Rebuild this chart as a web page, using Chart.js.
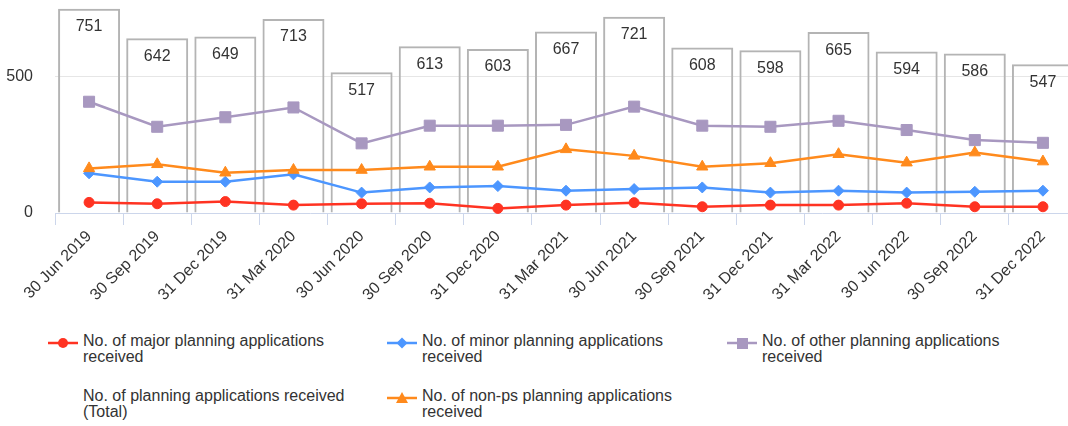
<!DOCTYPE html>
<html>
<head>
<meta charset="utf-8">
<script src="https://cdn.jsdelivr.net/npm/chart.js@4.4.1/dist/chart.umd.min.js"></script>
<style>
  html, body { margin: 0; padding: 0; width: 1068px; height: 426px; overflow: hidden; background: #fff; font-family: "Liberation Sans", Arial, sans-serif; }
  #wrap { position: absolute; left: 0; top: 0; width: 1077px; height: 320px; }
  .lg-sym { position: absolute; width: 30px; height: 14px; }
  .lg-txt { position: absolute; font-size: 16px; line-height: 16px; color: #333; white-space: nowrap; }
</style>
</head>
<body>
<div id="wrap"><canvas id="c" width="1077" height="320"></canvas></div>
<div id="legend"></div>
<script>
const categories = ["30 Jun 2019","30 Sep 2019","31 Dec 2019","31 Mar 2020","30 Jun 2020","30 Sep 2020","31 Dec 2020","31 Mar 2021","30 Jun 2021","30 Sep 2021","31 Dec 2021","31 Mar 2022","30 Jun 2022","30 Sep 2022","31 Dec 2022"];
const totalValues = [751,642,649,713,517,613,603,667,721,608,598,665,594,586,547];
const majorValues = [39,34,42,29,34,36,17,29,38,23,29,29,36,23,23];
const minorValues = [146,115,115,142,75,94,99,82,88,94,75,82,75,78,82];
const otherValues = [409,317,352,388,256,321,321,324,391,321,317,339,305,268,258];
const nonpsValues = [164,179,148,158,158,170,170,234,210,170,183,216,185,222,189];
const yTickValues = [0, 500];
const seriesNames = {
  major: ["No. of major planning applications", "received"],
  minor: ["No. of minor planning applications", "received"],
  other: ["No. of other planning applications", "received"],
  total: ["No. of planning applications received", "(Total)"],
  nonps: ["No. of non-ps planning applications", "received"]
};
const colors = { major: "#ff3322", minor: "#4c96ff", other: "#a898c0", nonps: "#ff8a1c", total: "#b4b4b4" };

const FONT = "'Liberation Sans', Arial, sans-serif";
Chart.defaults.font.family = FONT;
Chart.defaults.font.size = 16;
Chart.defaults.color = "#333";

function lineDs(key, data, style, radius, order) {
  return {
    type: "line", label: seriesNames[key].join(" "), data: data,
    borderColor: colors[key], backgroundColor: colors[key],
    pointBackgroundColor: colors[key], pointBorderColor: colors[key], pointBorderWidth: 1,
    borderWidth: 2.5, pointStyle: style, pointRadius: radius, pointHoverRadius: radius,
    tension: 0, order: order, clip: false
  };
}

const barLabels = {
  id: "barLabels",
  afterDatasetsDraw(chart) {
    const ctx = chart.ctx;
    const meta = chart.getDatasetMeta(0);
    ctx.save();
    ctx.font = "16px " + FONT;
    ctx.fillStyle = "#333";
    ctx.textAlign = "center";
    ctx.textBaseline = "middle";
    meta.data.forEach((bar, i) => {
      ctx.fillText(String(totalValues[i]), bar.x, bar.y + 18);
    });
    ctx.restore();
  }
};

const chart = new Chart(document.getElementById("c"), {
  type: "bar",
  data: {
    labels: categories,
    datasets: [
      { type: "bar", label: seriesNames.total.join(" "), data: totalValues,
        backgroundColor: "rgba(0,0,0,0)", borderColor: colors.total, borderWidth: 2,
        barPercentage: 0.91, categoryPercentage: 1, order: 10, clip: false },
      lineDs("major", majorValues, "circle", 5, 4),
      lineDs("minor", minorValues, "rectRot", 5.5, 3),
      lineDs("other", otherValues, "rect", 7.8, 2),
      lineDs("nonps", nonpsValues, "triangle", 6.5, 1)
    ]
  },
  options: {
    responsive: false, animation: false, devicePixelRatio: 1,
    layout: { autoPadding: false, padding: { left: 0, right: 0, top: 0, bottom: 0 } },
    plugins: { legend: { display: false }, tooltip: { enabled: false } },
    scales: {
      x: {
        offset: true,
        grid: { offset: true, drawOnChartArea: false, drawTicks: true, tickLength: 12, color: "#ccd6eb", lineWidth: 1 },
        border: { display: true, color: "#ccd6eb", width: 1 },
        ticks: { autoSkip: false, minRotation: 45, maxRotation: 45, padding: 2, color: "#333", font: { size: 16, family: FONT } },
        afterFit(scale) { scale.height = 107; scale.paddingLeft = 0; scale.paddingRight = 0; }
      },
      y: {
        min: 0, max: 783,
        afterBuildTicks(scale) { scale.ticks = yTickValues.map(v => ({ value: v })); },
        grid: { drawTicks: false, color: ctx => (ctx.tick && ctx.tick.value === 0) ? "rgba(0,0,0,0)" : "#e6e6e6", lineWidth: 1 },
        border: { display: false },
        ticks: { padding: 22, color: "#333", font: { size: 16, family: FONT } },
        afterFit(scale) { scale.width = 55; scale.paddingTop = 0; scale.paddingBottom = 0; }
      }
    }
  },
  plugins: [barLabels]
});

// HTML legend
const legendItems = [
  { key: "major", sym: "circle", x: 48, y: 333 },
  { key: "minor", sym: "diamond", x: 387, y: 333 },
  { key: "other", sym: "square", x: 727, y: 333 },
  { key: "total", sym: "none", x: 48, y: 388 },
  { key: "nonps", sym: "triangle", x: 387, y: 388 }
];
const lg = document.getElementById("legend");
legendItems.forEach(it => {
  const c = colors[it.key];
  if (it.sym !== "none") {
    let m = "";
    if (it.sym === "circle") m = `<circle cx="15" cy="7" r="5" fill="${c}"/>`;
    if (it.sym === "diamond") m = `<path d="M15 1.5 L20.5 7 L15 12.5 L9.5 7 Z" fill="${c}"/>`;
    if (it.sym === "square") m = `<rect x="10" y="2" width="11" height="11" fill="${c}"/>`;
    if (it.sym === "triangle") m = `<path d="M15 1 L21 12 L9 12 Z" fill="${c}"/>`;
    const s = document.createElement("div");
    s.className = "lg-sym";
    s.style.left = it.x + "px"; s.style.top = (it.y + 3) + "px";
    s.innerHTML = `<svg width="30" height="14"><line x1="0" y1="7" x2="30" y2="7" stroke="${c}" stroke-width="2.5"/>${m}</svg>`;
    lg.appendChild(s);
  }
  const t = document.createElement("div");
  t.className = "lg-txt";
  t.style.left = (it.x + 35) + "px"; t.style.top = it.y + "px";
  t.innerHTML = seriesNames[it.key].join("<br>");
  lg.appendChild(t);
});
</script>
</body>
</html>
